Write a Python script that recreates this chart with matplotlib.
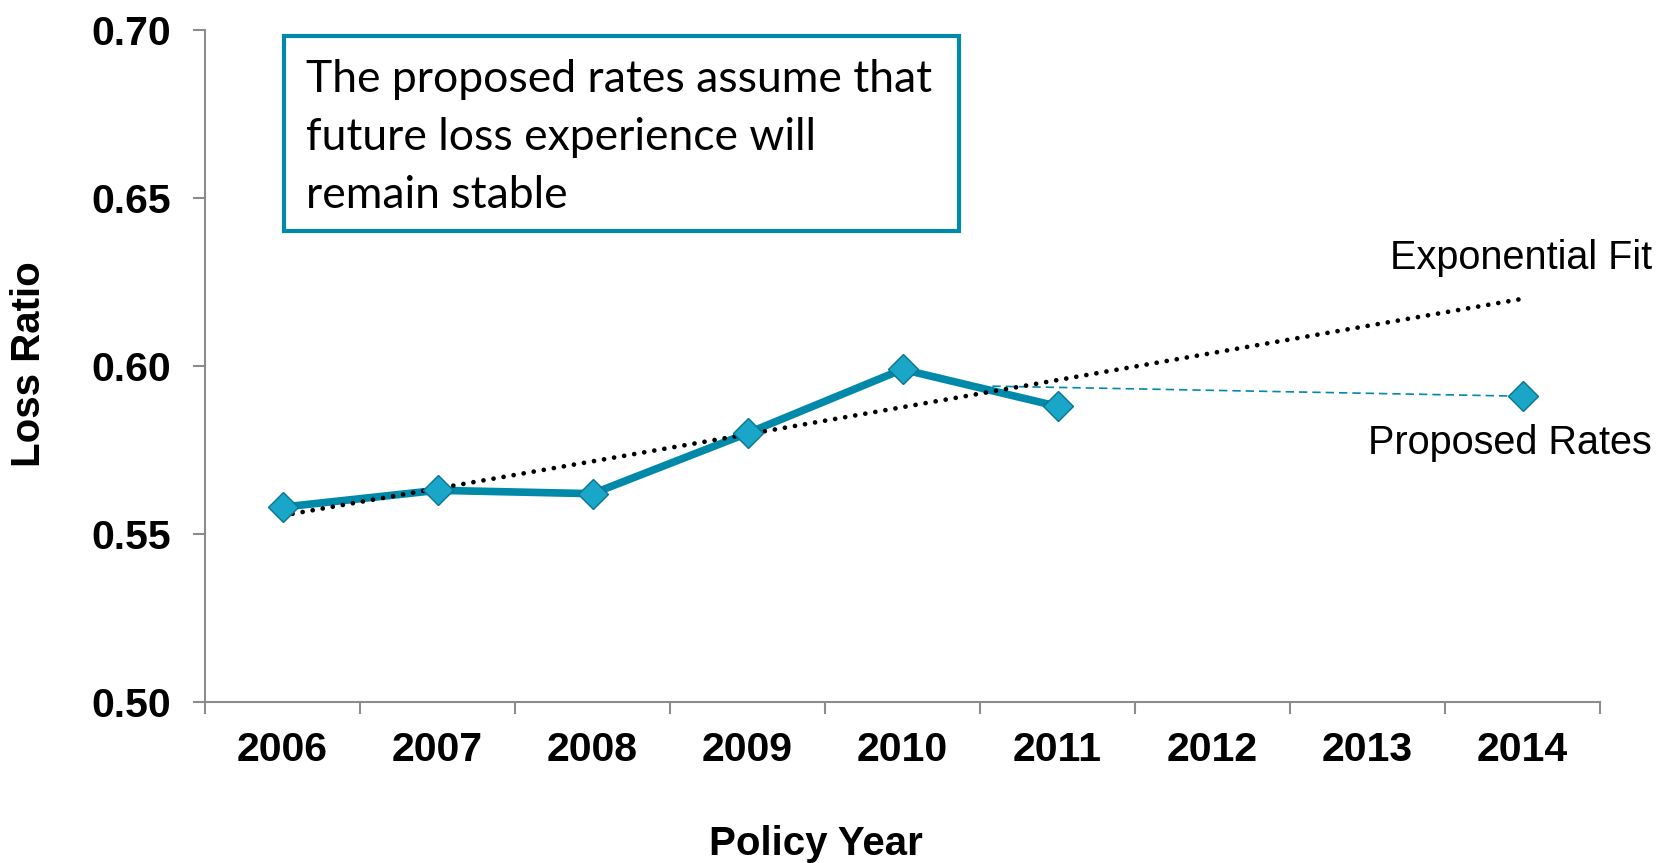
import numpy as np
import matplotlib
matplotlib.use("Agg")
from matplotlib import pyplot as plt
from matplotlib.patches import Rectangle

# chart data
years = ["2006", "2007", "2008", "2009", "2010", "2011", "2012", "2013", "2014"]
hist_years = ["2006", "2007", "2008", "2009", "2010", "2011"]
hist_ratio = [0.558, 0.563, 0.562, 0.580, 0.599, 0.588]
proposed_year = "2014"
proposed_ratio = 0.591
# exponential trendline end points (2006 -> 2014)
fit_pos = [0, 8]
fit_ratio = [0.5555, 0.620]
# dashed projection to the proposed rate
proj_pos = [4.58, 8]
proj_ratio = [0.594, 0.591]
y_ticks = [0.50, 0.55, 0.60, 0.65, 0.70]
note_lines = ["The proposed rates assume that",
              "future loss experience will",
              "remain stable"]

W, H = 1660, 863
teal = "#0089A8"
marker_face = "#1AA6C9"
marker_edge = "#0A7590"
axis_grey = "#8C8C8C"

plt.rcParams["font.family"] = ["Liberation Sans", "DejaVu Sans"]

fig = plt.figure(figsize=(W / 100, H / 100), dpi=100)
ax = fig.add_axes([205 / W, 1 - 702 / H, (1600 - 205) / W, (702 - 30) / H])

pos = {y: i for i, y in enumerate(years)}
hx = [pos[y] for y in hist_years]

ax.plot(fit_pos, fit_ratio, color="black", lw=3.4, linestyle=(0, (0.01, 2.15)),
        dash_capstyle="round", zorder=4)
ax.plot(proj_pos, proj_ratio, color=teal, lw=1.2, linestyle=(0, (5, 3)), zorder=2)
ax.plot(hx, hist_ratio, color=teal, lw=5.5, zorder=3, solid_joinstyle="round")
ax.plot(hx + [pos[proposed_year]], hist_ratio + [proposed_ratio], linestyle="none",
        marker="D", ms=15.5, mfc=marker_face, mec=marker_edge, mew=1.0, zorder=5)

ax.set_xlim(-0.5, len(years) - 0.5)
ax.set_ylim(0.50, 0.70)
ax.set_yticks(y_ticks)
ax.set_yticklabels(["%.2f" % v for v in y_ticks])
ax.set_xticks(range(len(years)))
ax.set_xticklabels(years)
ax.set_xticks(np.arange(-0.5, len(years)), minor=True)

for s in ["top", "right"]:
    ax.spines[s].set_visible(False)
for s in ["left", "bottom"]:
    ax.spines[s].set_color(axis_grey)
    ax.spines[s].set_linewidth(1.5)

ax.tick_params(axis="x", which="major", length=0, pad=21, labelsize=29.5)
ax.tick_params(axis="x", which="minor", length=8.6, width=1.5, color=axis_grey, direction="out")
ax.tick_params(axis="y", length=8.6, width=1.5, color=axis_grey, direction="out",
               pad=16, labelsize=29.5)
for lab in ax.get_xticklabels() + ax.get_yticklabels():
    lab.set_fontweight("bold")

fig.text(28.6 / W, 1 - 364 / H, "Loss Ratio", rotation=90, fontsize=29,
         fontweight="bold", ha="center", va="center")
fig.text(816 / W, 1 - 844 / H, "Policy Year", fontsize=29,
         fontweight="bold", ha="center", va="center")

fig.text(1652 / W, 1 - 258 / H, "Exponential Fit", fontsize=28.5, ha="right", va="center")
fig.text(1652 / W, 1 - 443 / H, "Proposed Rates", fontsize=28.5, ha="right", va="center")

# note box
fig.patches.append(Rectangle((284 / W, 1 - 231 / H), (959 - 284) / W, (231 - 36) / H,
                             transform=fig.transFigure, fill=False, edgecolor=teal,
                             lw=3, zorder=10))
for k, line in enumerate(note_lines):
    fig.text(306 / W, 1 - (80 + 57.5 * k) / H, line, fontsize=32,
             family=["Lato", "DejaVu Sans"], ha="left", va="center")

fig.savefig("out.png", dpi=100)
